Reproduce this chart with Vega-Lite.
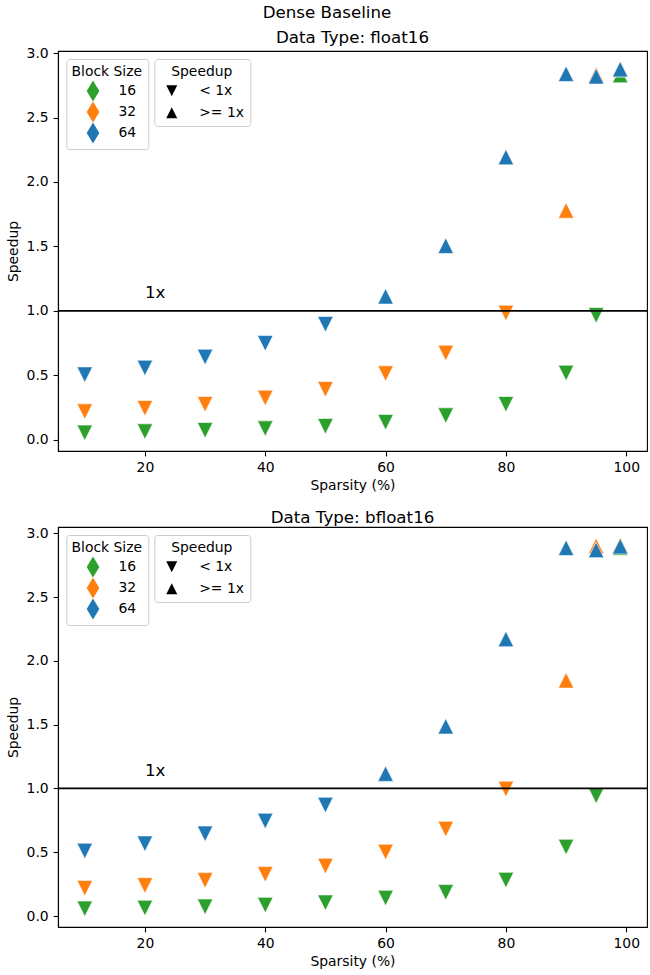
{
  "$schema": "https://vega.github.io/schema/vega-lite/v6.json",
  "padding": {"left": 5, "top": 5, "right": 2, "bottom": 2},
  "background": "white",
  "title": {"text": "Dense Baseline", "anchor": "middle", "frame": "bounds", "offset": -5, "baseline": "alphabetic", "fontSize": 16.7, "font": "DejaVu Sans", "fontWeight": "normal", "color": "black"},
  "datasets": {
    "float16": [
      {"sparsity": 10, "block": 16, "speedup": 0.052},
      {"sparsity": 20, "block": 16, "speedup": 0.062},
      {"sparsity": 30, "block": 16, "speedup": 0.072},
      {"sparsity": 40, "block": 16, "speedup": 0.085},
      {"sparsity": 50, "block": 16, "speedup": 0.103},
      {"sparsity": 60, "block": 16, "speedup": 0.135},
      {"sparsity": 70, "block": 16, "speedup": 0.186},
      {"sparsity": 80, "block": 16, "speedup": 0.274},
      {"sparsity": 90, "block": 16, "speedup": 0.517},
      {"sparsity": 95, "block": 16, "speedup": 0.965},
      {"sparsity": 99, "block": 16, "speedup": 2.83},
      {"sparsity": 10, "block": 32, "speedup": 0.217},
      {"sparsity": 20, "block": 32, "speedup": 0.243},
      {"sparsity": 30, "block": 32, "speedup": 0.274},
      {"sparsity": 40, "block": 32, "speedup": 0.323},
      {"sparsity": 50, "block": 32, "speedup": 0.39},
      {"sparsity": 60, "block": 32, "speedup": 0.512},
      {"sparsity": 70, "block": 32, "speedup": 0.672},
      {"sparsity": 80, "block": 32, "speedup": 0.983},
      {"sparsity": 90, "block": 32, "speedup": 1.779},
      {"sparsity": 95, "block": 32, "speedup": 2.834},
      {"sparsity": 99, "block": 32, "speedup": 2.876},
      {"sparsity": 10, "block": 64, "speedup": 0.504},
      {"sparsity": 20, "block": 64, "speedup": 0.556},
      {"sparsity": 30, "block": 64, "speedup": 0.641},
      {"sparsity": 40, "block": 64, "speedup": 0.747},
      {"sparsity": 50, "block": 64, "speedup": 0.895},
      {"sparsity": 60, "block": 64, "speedup": 1.112},
      {"sparsity": 70, "block": 64, "speedup": 1.505},
      {"sparsity": 80, "block": 64, "speedup": 2.193},
      {"sparsity": 90, "block": 64, "speedup": 2.84},
      {"sparsity": 95, "block": 64, "speedup": 2.82},
      {"sparsity": 99, "block": 64, "speedup": 2.876}
    ],
    "bfloat16": [
      {"sparsity": 10, "block": 16, "speedup": 0.057},
      {"sparsity": 20, "block": 16, "speedup": 0.063},
      {"sparsity": 30, "block": 16, "speedup": 0.073},
      {"sparsity": 40, "block": 16, "speedup": 0.086},
      {"sparsity": 50, "block": 16, "speedup": 0.105},
      {"sparsity": 60, "block": 16, "speedup": 0.141},
      {"sparsity": 70, "block": 16, "speedup": 0.186},
      {"sparsity": 80, "block": 16, "speedup": 0.282},
      {"sparsity": 90, "block": 16, "speedup": 0.541},
      {"sparsity": 95, "block": 16, "speedup": 0.943},
      {"sparsity": 99, "block": 16, "speedup": 2.888},
      {"sparsity": 10, "block": 32, "speedup": 0.219},
      {"sparsity": 20, "block": 32, "speedup": 0.24},
      {"sparsity": 30, "block": 32, "speedup": 0.28},
      {"sparsity": 40, "block": 32, "speedup": 0.327},
      {"sparsity": 50, "block": 32, "speedup": 0.392},
      {"sparsity": 60, "block": 32, "speedup": 0.502},
      {"sparsity": 70, "block": 32, "speedup": 0.682},
      {"sparsity": 80, "block": 32, "speedup": 0.996},
      {"sparsity": 90, "block": 32, "speedup": 1.847},
      {"sparsity": 95, "block": 32, "speedup": 2.9},
      {"sparsity": 99, "block": 32, "speedup": 2.906},
      {"sparsity": 10, "block": 64, "speedup": 0.51},
      {"sparsity": 20, "block": 64, "speedup": 0.567},
      {"sparsity": 30, "block": 64, "speedup": 0.645},
      {"sparsity": 40, "block": 64, "speedup": 0.745},
      {"sparsity": 50, "block": 64, "speedup": 0.87},
      {"sparsity": 60, "block": 64, "speedup": 1.116},
      {"sparsity": 70, "block": 64, "speedup": 1.487},
      {"sparsity": 80, "block": 64, "speedup": 2.171},
      {"sparsity": 90, "block": 64, "speedup": 2.885},
      {"sparsity": 95, "block": 64, "speedup": 2.869},
      {"sparsity": 99, "block": 64, "speedup": 2.898}
    ]
  },
  "bounds": "flush",
  "spacing": 76,
  "resolve": {
    "scale": {"x": "independent", "y": "independent"},
    "axis": {"x": "independent", "y": "independent"},
    "legend": {"color": "independent", "shape": "independent"}
  },
  "vconcat": [
    {
      "width": 589,
      "height": 400,
      "title": {"text": "Data Type: float16", "anchor": "middle", "frame": "group", "offset": -14, "baseline": "alphabetic", "fontSize": 16.7, "font": "DejaVu Sans", "fontWeight": "normal", "color": "black"},
      "layer": [
        {
          "data": {"name": "float16"},
          "transform": [{"calculate": "datum.speedup < 1 ? '< 1x' : '>= 1x'", "as": "Speedup"}],
          "mark": {"type": "point", "filled": true, "size": 240, "opacity": 1, "stroke": "white", "strokeWidth": 0.6},
          "encoding": {
            "x": {"field": "sparsity", "type": "quantitative", "scale": {"domain": [5.55, 103.45], "nice": false, "zero": false}, "axis": {"values": [20, 40, 60, 80, 100], "format": "d", "title": "Sparsity (%)"}},
            "y": {"field": "speedup", "type": "quantitative", "scale": {"domain": [-0.089, 3.017], "nice": false, "zero": false}, "axis": {"values": [0, 0.5, 1, 1.5, 2, 2.5, 3], "format": ".1f", "title": "Speedup"}},
            "color": {"field": "block", "type": "nominal", "scale": {"domain": [16, 32, 64], "range": ["#2ca02c", "#ff7f0e", "#1f77b4"]},
              "legend": {"title": "Block Size", "orient": "none", "legendX": 8.3, "legendY": 8, "symbolType": "M0,-1L0.6,0L0,1L-0.6,0Z", "symbolSize": 441, "symbolStrokeWidth": 0, "symbolOffset": 5.7, "labelOffset": 15, "rowPadding": 0, "padding": 5.5, "titleAnchor": "middle", "titlePadding": 2, "fillColor": "rgba(255,255,255,0.8)", "strokeColor": "#cccccc", "cornerRadius": 3, "symbolOpacity": 1}},
            "shape": {"field": "Speedup", "type": "nominal", "scale": {"domain": ["< 1x", ">= 1x"], "range": ["M0,1L1,-1L-1,-1Z", "M0,-1L1,1L-1,1Z"]},
              "legend": {"title": "Speedup", "orient": "none", "legendX": 96.3, "legendY": 8, "symbolSize": 121, "symbolFillColor": "black", "symbolStrokeColor": "black", "symbolStrokeWidth": 0, "symbolOffset": 5, "labelOffset": 20.5, "rowPadding": 7, "padding": 5.5, "titleAnchor": "middle", "titlePadding": 5.5, "fillColor": "rgba(255,255,255,0.8)", "strokeColor": "#cccccc", "cornerRadius": 3, "symbolOpacity": 1}}
          }
        },
        {
          "data": {"values": [{"level": 1}]},
          "mark": {"type": "rule", "color": "black", "strokeWidth": 1.75},
          "encoding": {"y": {"field": "level", "type": "quantitative"}}
        },
        {
          "data": {"values": [{"sx": 20, "sy": 1.1, "label": "1x"}]},
          "mark": {"type": "text", "align": "left", "baseline": "alphabetic", "fontSize": 16.7, "font": "DejaVu Sans", "color": "black"},
          "encoding": {"x": {"field": "sx", "type": "quantitative"}, "y": {"field": "sy", "type": "quantitative"}, "text": {"field": "label"}}
        }
      ]
    },
    {
      "width": 589,
      "height": 400,
      "title": {"text": "Data Type: bfloat16", "anchor": "middle", "frame": "group", "offset": -14, "baseline": "alphabetic", "fontSize": 16.7, "font": "DejaVu Sans", "fontWeight": "normal", "color": "black"},
      "layer": [
        {
          "data": {"name": "bfloat16"},
          "transform": [{"calculate": "datum.speedup < 1 ? '< 1x' : '>= 1x'", "as": "Speedup"}],
          "mark": {"type": "point", "filled": true, "size": 240, "opacity": 1, "stroke": "white", "strokeWidth": 0.6},
          "encoding": {
            "x": {"field": "sparsity", "type": "quantitative", "scale": {"domain": [5.55, 103.45], "nice": false, "zero": false}, "axis": {"values": [20, 40, 60, 80, 100], "format": "d", "title": "Sparsity (%)"}},
            "y": {"field": "speedup", "type": "quantitative", "scale": {"domain": [-0.0855, 3.0485], "nice": false, "zero": false}, "axis": {"values": [0, 0.5, 1, 1.5, 2, 2.5, 3], "format": ".1f", "title": "Speedup"}},
            "color": {"field": "block", "type": "nominal", "scale": {"domain": [16, 32, 64], "range": ["#2ca02c", "#ff7f0e", "#1f77b4"]},
              "legend": {"title": "Block Size", "orient": "none", "legendX": 8.3, "legendY": 8, "symbolType": "M0,-1L0.6,0L0,1L-0.6,0Z", "symbolSize": 441, "symbolStrokeWidth": 0, "symbolOffset": 5.7, "labelOffset": 15, "rowPadding": 0, "padding": 5.5, "titleAnchor": "middle", "titlePadding": 2, "fillColor": "rgba(255,255,255,0.8)", "strokeColor": "#cccccc", "cornerRadius": 3, "symbolOpacity": 1}},
            "shape": {"field": "Speedup", "type": "nominal", "scale": {"domain": ["< 1x", ">= 1x"], "range": ["M0,1L1,-1L-1,-1Z", "M0,-1L1,1L-1,1Z"]},
              "legend": {"title": "Speedup", "orient": "none", "legendX": 96.3, "legendY": 8, "symbolSize": 121, "symbolFillColor": "black", "symbolStrokeColor": "black", "symbolStrokeWidth": 0, "symbolOffset": 5, "labelOffset": 20.5, "rowPadding": 7, "padding": 5.5, "titleAnchor": "middle", "titlePadding": 5.5, "fillColor": "rgba(255,255,255,0.8)", "strokeColor": "#cccccc", "cornerRadius": 3, "symbolOpacity": 1}}
          }
        },
        {
          "data": {"values": [{"level": 1}]},
          "mark": {"type": "rule", "color": "black", "strokeWidth": 1.75},
          "encoding": {"y": {"field": "level", "type": "quantitative"}}
        },
        {
          "data": {"values": [{"sx": 20, "sy": 1.1, "label": "1x"}]},
          "mark": {"type": "text", "align": "left", "baseline": "alphabetic", "fontSize": 16.7, "font": "DejaVu Sans", "color": "black"},
          "encoding": {"x": {"field": "sx", "type": "quantitative"}, "y": {"field": "sy", "type": "quantitative"}, "text": {"field": "label"}}
        }
      ]
    }
  ],
  "config": {
    "font": "DejaVu Sans",
    "view": {"stroke": "black", "strokeWidth": 1.1},
    "axis": {"labelFont": "DejaVu Sans", "labelFontSize": 13.9, "labelColor": "black", "titleFont": "DejaVu Sans", "titleFontSize": 13.9, "titleFontWeight": "normal", "titleColor": "black", "tickColor": "black", "domainColor": "black", "tickSize": 4.9, "tickWidth": 1.1, "domainWidth": 1.1, "labelPadding": 4.9, "grid": false},
    "axisX": {"titlePadding": 3.5},
    "axisY": {"titlePadding": 6},
    "legend": {"labelFont": "DejaVu Sans", "labelFontSize": 13.9, "labelColor": "black", "titleFont": "DejaVu Sans", "titleFontSize": 13.9, "titleFontWeight": "normal", "titleColor": "black"}
  }
}
